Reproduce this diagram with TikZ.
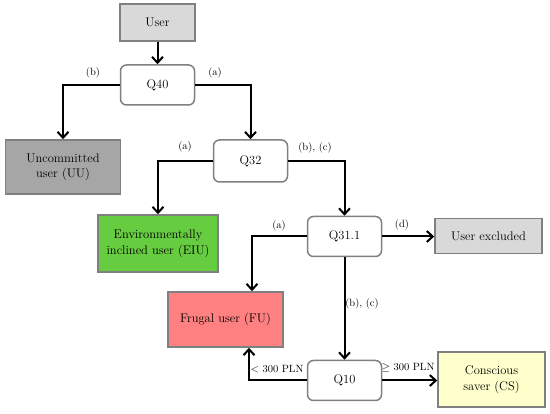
\documentclass[tikz,border=0pt]{standalone}
\usetikzlibrary{arrows.meta,positioning}
\definecolor{bordergray}{HTML}{808080}
\definecolor{lightbox}{HTML}{D9D9D9}
\definecolor{darkbox}{HTML}{A6A6A6}
\definecolor{greenbox}{HTML}{66CC40}
\definecolor{pinkbox}{HTML}{FF8080}
\definecolor{yellowbox}{HTML}{FFFFCC}
\tikzset{
  box/.style={draw=bordergray, line width=1.5pt, minimum width=#1, align=center, font=\fontsize{12.5}{15.5}\selectfont, text=black, inner sep=2pt},
  qbox/.style={box=74pt, minimum height=40pt, rounded corners=6pt, fill=white},
  conn/.style={line width=2pt, -{Straight Barb[length=6pt,width=11pt,line width=2pt]}},
  lbl/.style={font=\fontsize{10.5}{12}\selectfont, text=black, inner sep=1pt}
}
\begin{document}
\begin{tikzpicture}[x=1pt,y=-1pt]
\useasboundingbox (0,0) rectangle (550,414);
\node[box=75pt, minimum height=37pt, fill=lightbox] (user) at (157.5,22.5) {User};
\node[qbox] (q40) at (157.5,85) {Q40};
\node[box=115pt, minimum height=54pt, fill=darkbox] (uu) at (63,167) {Uncommitted\\user (UU)};
\node[qbox, minimum height=42pt] (q32) at (250.5,161) {Q32};
\node[box=120pt, minimum height=57pt, fill=greenbox] (eiu) at (158,243.5) {Environmentally\\inclined user (EIU)};
\node[qbox] (q311) at (344.5,236.5) {Q31.1};
\node[box=107pt, minimum height=35pt, fill=lightbox] (excl) at (488.5,236) {User excluded};
\node[box=115pt, minimum height=55pt, fill=pinkbox] (fu) at (225.5,319.5) {Frugal user (FU)};
\node[qbox] (q10) at (344.5,380.5) {Q10};
\node[box=107pt, minimum height=55pt, fill=yellowbox] (cs) at (491.5,379.5) {Conscious\\saver (CS)};
\coordinate (fa) at (252,0);
\coordinate (fb) at (249,0);

\draw[conn] (user) -- (q40);
\draw[conn] (q40.west) -| (uu.north);
\draw[conn] (q40.east) -| (q32.north);
\draw[conn] (q32.west) -| (eiu.north);
\draw[conn] (q32.east) -| (q311.north);
\draw[conn] (q311.west) -| (fu.north -| fa);
\draw[conn] (q311.east) -- (excl.west |- q311.east);
\draw[conn] (q311) -- (q10);
\draw[conn] (q10.west) -| (fu.south -| fb);
\draw[conn] (q10.east) -- (cs.west |- q10.east);

\node[lbl] (l1) at (93,73) {(b)};
\node[lbl] (l2) at (215,73) {(a)};
\node[lbl] (l3) at (185,147) {(a)};
\node[lbl] (l4) at (315,148) {(b), (c)};
\node[lbl] (l5) at (279,226) {(a)};
\node[lbl] (l6) at (402,225) {(d)};
\node[lbl] (l7) at (362,304) {(b), (c)};
\node[lbl] (l8) at (277,369) {$<$ 300 PLN};
\node[lbl] (l9) at (408,368) {$\geq$ 300 PLN};
\end{tikzpicture}
\end{document}
